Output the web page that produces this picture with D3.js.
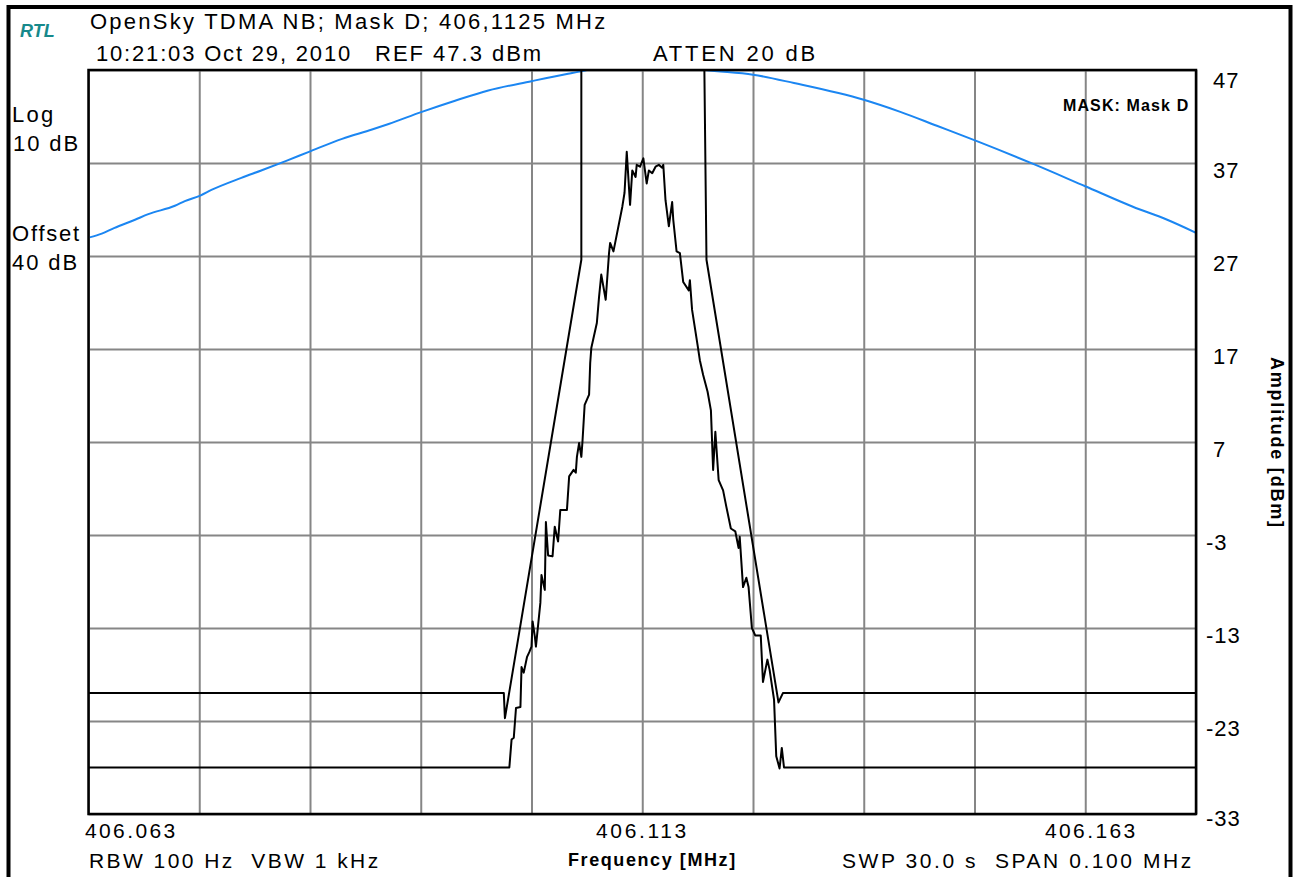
<!DOCTYPE html>
<html>
<head>
<meta charset="utf-8">
<script src="https://cdn.jsdelivr.net/npm/d3@7"></script>
<style>
  body { margin: 0; background: #fff; }
  text { font-family: "Liberation Sans", Arial, sans-serif; fill: #000; white-space: pre; }
</style>
</head>
<body>
<svg width="1297" height="877"></svg>
<script>
// grid / ticks
const gridFreqs = [406.063, 406.073, 406.083, 406.093, 406.103, 406.113, 406.123, 406.133, 406.143, 406.153, 406.163];
const gridDbm = [47, 37, 27, 17, 7, -3, -13, -23, -33];
const freqLabels = ["406.063", "406.113", "406.163"];

// blue curve
const blueFreq = [406.0631, 406.0642, 406.0653, 406.0672, 406.0684, 406.0708, 406.0717, 406.0731, 406.0741, 406.0768,
  406.0786, 406.0808, 406.0829, 406.0859, 406.0886, 406.0901, 406.0931, 406.0961, 406.0991, 406.1030,
  406.1063, 406.1072, 406.1080, 406.1100, 406.1130, 406.1160, 406.1187, 406.1230, 406.1267, 406.1330,
  406.1363, 406.1396, 406.1431, 406.1483, 406.1530, 406.1573, 406.1604, 406.1630];
const blueDbm = [29.0, 29.4, 30.0, 30.9, 31.5, 32.4, 32.9, 33.5, 34.1, 35.4,
  36.2, 37.2, 38.2, 39.6, 40.6, 41.2, 42.5, 43.7, 44.8, 45.8,
  46.6, 46.8, 47.0, 47.4, 47.8, 47.5, 47.0, 46.5, 45.6, 43.8,
  42.5, 41.0, 39.4, 36.9, 34.5, 32.3, 30.9, 29.5];

// mask D
const maskFreq = [406.0630, 406.1005, 406.1006, 406.1075, 406.1075, 406.1186, 406.1188, 406.1253, 406.1257, 406.1630];
const maskDbm = [-20, -20, -22.7, 26.6, 48, 48, 26.6, -21.0, -20, -20];

// measured trace
const traceFreq = [406.0630, 406.1010, 406.1012, 406.1014, 406.1016, 406.1020, 406.1021, 406.1023, 406.1026, 406.1028,
  406.1030, 406.1031, 406.1033, 406.1034, 406.1038, 406.1039, 406.1042, 406.1043, 406.1045, 406.1049,
  406.1051, 406.1054, 406.1056, 406.1062, 406.1064, 406.1068, 406.1070, 406.1071, 406.1073, 406.1075,
  406.1076, 406.1078, 406.1082, 406.1083, 406.1084, 406.1089, 406.1091, 406.1093, 406.1097, 406.1100,
  406.1101, 406.1104, 406.1112, 406.1114, 406.1116, 406.1119, 406.1121, 406.1124, 406.1125, 406.1128,
  406.1131, 406.1134, 406.1136, 406.1139, 406.1142, 406.1145, 406.1148, 406.1149, 406.1151, 406.1154,
  406.1157, 406.1158, 406.1161, 406.1164, 406.1167, 406.1172, 406.1173, 406.1175, 406.1180, 406.1182,
  406.1185, 406.1189, 406.1192, 406.1194, 406.1196, 406.1199, 406.1203, 406.1206, 406.1210, 406.1214,
  406.1217, 406.1218, 406.1221, 406.1224, 406.1226, 406.1229, 406.1232, 406.1237, 406.1239, 406.1243,
  406.1245, 406.1249, 406.1251, 406.1254, 406.1256, 406.1258, 406.1630];
const traceDbm = [-28, -28, -25.0, -24.8, -21.6, -21.5, -17.2, -17.8, -16.1, -15.6,
  -15.0, -12.3, -13.9, -15.0, -10.3, -7.3, -8.9, -1.6, -5.2, -5.3,
  -2.1, -3.7, -0.3, -0.3, 3.3, 4.0, 3.7, 5.4, 6.9, 5.4,
  7.0, 11.0, 12.1, 15.5, 17.1, 19.8, 22.6, 25.0, 22.3, 27.3,
  28.4, 27.5, 32.3, 33.8, 38.2, 32.5, 36.2, 35.5, 36.8, 36.6,
  37.5, 34.8, 36.2, 35.9, 36.6, 36.8, 36.5, 36.8, 33.0, 30.2,
  32.8, 30.9, 27.5, 27.3, 24.2, 23.3, 24.4, 21.2, 17.4, 15.8,
  14.2, 12.4, 10.4, 4.0, 8.1, 2.9, 1.8, 0.0, -2.3, -2.6,
  -4.4, -3.2, -8.6, -7.6, -8.6, -13.0, -13.8, -13.8, -18.8, -16.4,
  -17.5, -20.7, -26.8, -28.1, -25.9, -28.0, -28.0];

const svg = d3.select("svg");

//область графика
const plotLeft = 88.5, plotRight = 1196, plotTop = 70, plotBottom = 814;

const x = d3.scaleLinear().domain([406.063, 406.163]).range([plotLeft, plotRight]);
const y = d3.scaleLinear().domain([-33, 47]).range([plotBottom, plotTop]);

svg.append("clipPath").attr("id", "plot")
  .append("rect").attr("x", plotLeft).attr("y", plotTop)
  .attr("width", plotRight - plotLeft).attr("height", plotBottom - plotTop);

// сетка
svg.append("g")
  .attr("transform", `translate(0,${plotBottom})`)
  .call(d3.axisBottom(x).tickValues(gridFreqs).tickSize(-(plotBottom - plotTop)).tickFormat(""))
  .call(g => g.select(".domain").remove())
  .selectAll("line").attr("stroke", "#868686").attr("stroke-width", 2);

svg.append("g")
  .attr("transform", `translate(${plotLeft},0)`)
  .call(d3.axisLeft(y).tickValues(gridDbm).tickSize(-(plotRight - plotLeft)).tickFormat(""))
  .call(g => g.select(".domain").remove())
  .selectAll("line").attr("stroke", "#868686").attr("stroke-width", 2);

function drawLine(fs, vs, color, width, curve) {
  const pts = fs.map((f, i) => [f, vs[i]]);
  const line = d3.line().x(d => x(d[0])).y(d => y(d[1])).curve(curve || d3.curveLinear);
  return svg.append("path")
    .attr("d", line(pts))
    .attr("clip-path", "url(#plot)")
    .attr("fill", "none")
    .attr("stroke", color)
    .attr("stroke-width", width)
    .attr("stroke-linejoin", "round");
}

drawLine(blueFreq, blueDbm, "#1b86f2", 2, d3.curveMonotoneX);
drawLine(maskFreq, maskDbm, "#000", 2);
drawLine(traceFreq, traceDbm, "#000", 2);

// рамка графика
svg.append("rect")
  .attr("x", plotLeft).attr("y", plotTop)
  .attr("width", plotRight - plotLeft).attr("height", plotBottom - plotTop)
  .attr("fill", "none").attr("stroke", "#000").attr("stroke-width", 2.5);

// внешняя рамка
svg.append("path")
  .attr("d", "M8.5,877 V7 H1290.5 V877")
  .attr("fill", "none").attr("stroke", "#000").attr("stroke-width", 4);

function label(txt, px, py, opts = {}) {
  const t = svg.append("text")
    .attr("x", px).attr("y", py)
    .attr("font-size", opts.size || 21)
    .attr("letter-spacing", opts.ls === undefined ? 1.8 : opts.ls)
    .attr("text-anchor", opts.anchor || "start")
    .text(txt);
  if (opts.bold) t.attr("font-weight", "bold");
  if (opts.len) t.attr("textLength", opts.len).attr("lengthAdjust", "spacing");
  return t;
}

// шапка
svg.append("text")
  .attr("x", 20).attr("y", 37)
  .attr("font-family", "'Liberation Serif', 'Times New Roman', serif")
  .attr("font-style", "italic").attr("font-weight", "bold")
  .attr("font-size", 18)
  .style("fill", "#16898b")
  .text("RTL");

label("OpenSky TDMA NB; Mask D; 406,1125 MHz", 90, 29, { size: 22, len: 517 });
label("10:21:03 Oct 29, 2010", 96, 61, { size: 22, len: 256 });
label("REF 47.3 dBm", 375, 61, { size: 22, len: 168 });
label("ATTEN 20 dB", 653, 61, { size: 22, len: 164 });

label("Log", 12, 122, { size: 22, len: 43 });
label("10 dB", 13, 151, { size: 22, len: 67 });
label("Offset", 12, 241, { size: 22, len: 69 });
label("40 dB", 12, 270, { size: 22, len: 67 });

label("MASK: Mask D", 1063, 111, { size: 16, bold: true, len: 127 });

// подписи оси Y
gridDbm.forEach((v, i) => {
  let off = 15;
  if (i === 0) off = 18;
  if (i === gridDbm.length - 1) off = 12;
  label(String(v), v < 0 ? 1206 : 1213, y(v) + off, { size: 22, ls: 1 });
});

// подписи оси X
label(freqLabels[0], 85, 838, { len: 92 });
label(freqLabels[1], 596, 838, { len: 92 });
label(freqLabels[2], 1045, 838, { len: 92 });

label("RBW 100 Hz  VBW 1 kHz", 89, 868, { len: 291 });
label("Frequency [MHz]", 568, 866, { size: 18, bold: true, len: 169 });
label("SWP 30.0 s  SPAN 0.100 MHz", 842, 868, { len: 351 });

svg.append("text")
  .attr("transform", "translate(1271,357) rotate(90)")
  .attr("font-size", 18).attr("font-weight", "bold")
  .attr("textLength", 170).attr("lengthAdjust", "spacing")
  .text("Amplitude [dBm]");
</script>
</body>
</html>
